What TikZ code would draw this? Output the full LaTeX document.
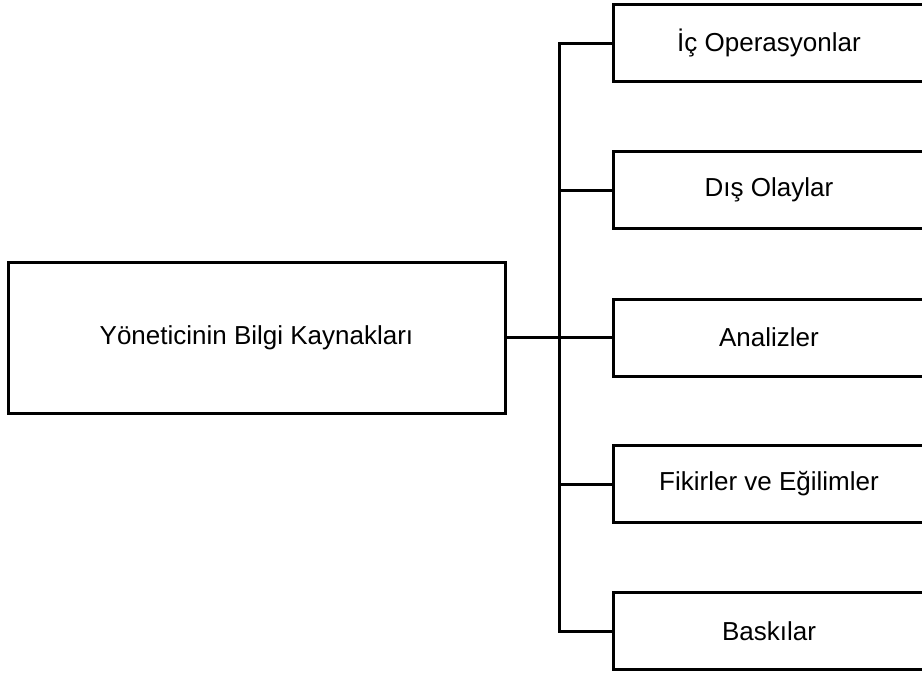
\documentclass[tikz,border=0pt]{standalone}
\usepackage{fontspec}
\setmainfont{Liberation Sans}
\begin{document}
\begin{tikzpicture}[x=1pt,y=-1pt,
  box/.style={draw, line width=3pt, rectangle, inner sep=0pt, font=\fontsize{26}{30}\selectfont},
  srcbox/.style={box, minimum width=497pt, minimum height=151pt},
  itembox/.style={box, minimum width=312pt, minimum height=77pt},
  link/.style={line width=3pt, line cap=rect}]
  \useasboundingbox (0,0) rectangle (922,675);
  \clip (0,0) rectangle (922,675);

  % source box
  \node[srcbox] (src) at (256.5,337.5) {Yöneticinin Bilgi Kaynakları};

  % information sources
  \node[itembox] (b1) at (769,43)  {İç Operasyonlar};
  \node[itembox] (b2) at (769,190) {Dış Olaylar};
  \node[itembox] (b3) at (769,337.5) {Analizler};
  \node[itembox] (b4) at (769,484) {Fikirler ve Eğilimler};
  \node[itembox] (b5) at (769,631) {Baskılar};

  % bus line
  \coordinate (bus) at (559,337.5);
  \draw[link] (src.east) -- (bus);
  \draw[link] (bus |- b1.west) -- (bus |- b5.west);
  \foreach \b in {b1,b2,b3,b4,b5}
    \draw[link] (bus |- \b.west) -- (\b.west);
\end{tikzpicture}
\end{document}
